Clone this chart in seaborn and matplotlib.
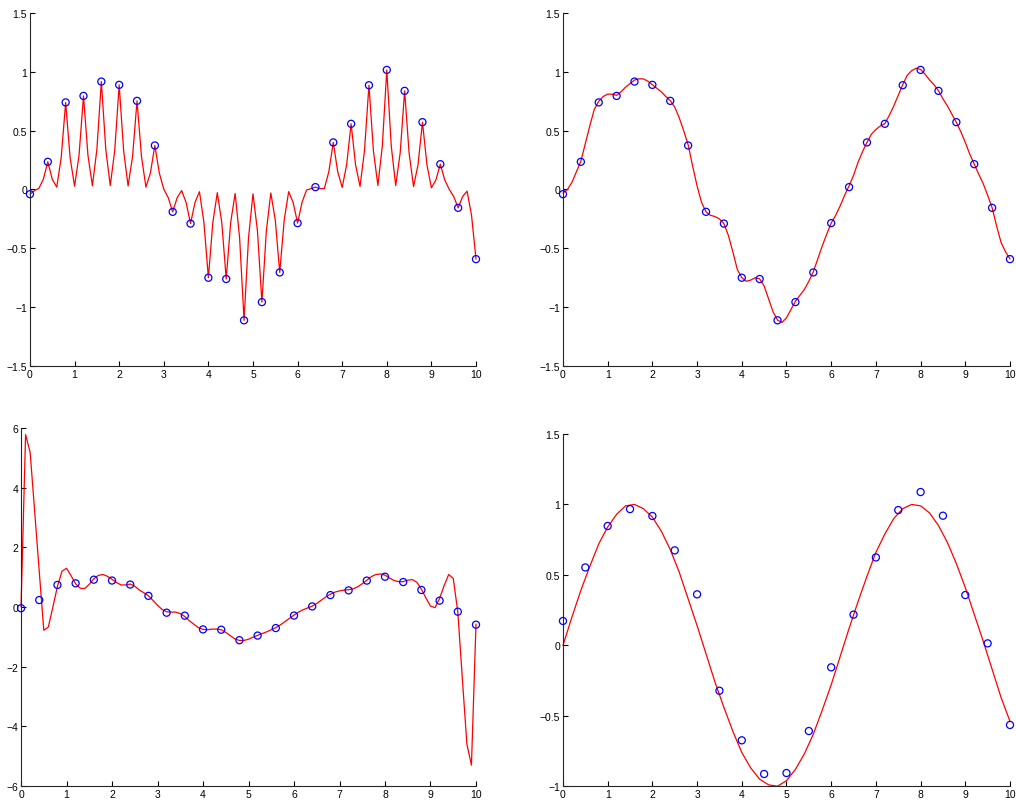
import numpy as np
import matplotlib
matplotlib.use("Agg")
import matplotlib.pyplot as plt
import seaborn as sns
from matplotlib.ticker import FuncFormatter

# noisy samples (top panels and bottom-left), x = 0, 0.4, ..., 10
pts_y = [-0.04, 0.235, 0.74, 0.795, 0.917, 0.889, 0.753, 0.374, -0.19, -0.29,
         -0.75, -0.761, -1.112, -0.957, -0.705, -0.286, 0.02, 0.40, 0.558, 0.886,
         1.016, 0.838, 0.572, 0.215, -0.156, -0.592]

# narrow-kernel fit (top-left), x step 0.1
narrow_y = [-0.04, -0.01, 0.01, 0.087, 0.235, 0.087, 0.02, 0.27, 0.74, 0.27,
            0.028, 0.29, 0.795, 0.29, 0.031, 0.34, 0.917, 0.34, 0.033, 0.33,
            0.889, 0.33, 0.03, 0.28, 0.753, 0.28, 0.02, 0.14, 0.374, 0.14,
            0.003, -0.07, -0.19, -0.07, -0.009, -0.11, -0.29, -0.11, -0.019, -0.28,
            -0.75, -0.28, -0.027, -0.28, -0.761, -0.28, -0.034, -0.41, -1.112, -0.41,
            -0.037, -0.35, -0.957, -0.35, -0.03, -0.26, -0.705, -0.26, -0.018, -0.11,
            -0.286, -0.11, -0.005, 0.007, 0.02, 0.007, 0.008, 0.15, 0.40, 0.15,
            0.017, 0.21, 0.558, 0.21, 0.026, 0.33, 0.886, 0.33, 0.034, 0.37,
            1.016, 0.37, 0.033, 0.31, 0.838, 0.31, 0.025, 0.21, 0.572, 0.21,
            0.014, 0.08, 0.215, 0.08, 0.001, -0.06, -0.156, -0.06, -0.014, -0.22,
            -0.592]

# smooth fit (top-right), x step 0.1
smooth_y = [-0.03, 0.00, 0.06, 0.15, 0.24, 0.39, 0.54, 0.68, 0.75, 0.79,
            0.81, 0.81, 0.80, 0.83, 0.87, 0.90, 0.93, 0.94, 0.94, 0.92,
            0.89, 0.86, 0.83, 0.79, 0.755, 0.70, 0.61, 0.50, 0.38, 0.20,
            0.03, -0.11, -0.19, -0.22, -0.23, -0.25, -0.29, -0.39, -0.53, -0.68,
            -0.75, -0.78, -0.77, -0.75, -0.76, -0.82, -0.93, -1.04, -1.11, -1.13,
            -1.09, -1.02, -0.95, -0.90, -0.85, -0.78, -0.70, -0.59, -0.48, -0.38,
            -0.285, -0.22, -0.14, -0.05, 0.03, 0.12, 0.23, 0.32, 0.40, 0.47,
            0.51, 0.54, 0.56, 0.63, 0.71, 0.80, 0.89, 0.97, 1.01, 1.03,
            1.02, 0.98, 0.93, 0.89, 0.84, 0.77, 0.71, 0.64, 0.57, 0.49,
            0.40, 0.30, 0.215, 0.13, 0.05, -0.05, -0.155, -0.31, -0.45, -0.53,
            -0.59]

# overfitted fit (bottom-left), x step 0.1
wild_y = [0.0, 5.78, 5.19, 3.2, 1.2, -0.78, -0.67, 0.0, 0.69, 1.2,
          1.3, 1.05, 0.78, 0.63, 0.62, 0.76, 0.95, 1.06, 1.09, 1.03,
          0.93, 0.82, 0.74, 0.74, 0.77, 0.70, 0.57, 0.48, 0.38, 0.22,
          0.06, -0.08, -0.16, -0.17, -0.17, -0.22, -0.32, -0.46, -0.58, -0.69,
          -0.75, -0.76, -0.74, -0.74, -0.76, -0.85, -0.96, -1.07, -1.12, -1.12,
          -1.08, -1.01, -0.95, -0.89, -0.83, -0.76, -0.69, -0.60, -0.49, -0.38,
          -0.27, -0.17, -0.09, -0.03, 0.03, 0.12, 0.23, 0.34, 0.43, 0.50,
          0.54, 0.57, 0.58, 0.61, 0.68, 0.78, 0.90, 1.02, 1.09, 1.11,
          1.07, 0.97, 0.89, 0.85, 0.85, 0.90, 0.92, 0.83, 0.60, 0.30,
          0.03, -0.02, 0.29, 0.72, 1.09, 0.96, -0.16, -2.4, -4.6, -5.3,
          -0.57]

# bottom-right samples, x = 0, 0.5, ..., 10
sin_pts = [0.173, 0.553, 0.847, 0.967, 0.918, 0.674, 0.362, -0.322, -0.674, -0.913,
           -0.906, -0.608, -0.156, 0.218, 0.624, 0.960, 1.088, 0.920, 0.357, 0.014,
           -0.565]

# bottom-right curve, x step 0.2
sin_curve = [0.00, 0.20, 0.39, 0.56, 0.72, 0.84, 0.93, 0.99, 1.00, 0.97,
             0.91, 0.81, 0.68, 0.52, 0.33, 0.14, -0.06, -0.26, -0.44, -0.61,
             -0.76, -0.87, -0.95, -0.99, -1.00, -0.96, -0.88, -0.77, -0.63, -0.46,
             -0.28, -0.08, 0.12, 0.31, 0.49, 0.66, 0.79, 0.90, 0.97, 1.00,
             0.99, 0.94, 0.85, 0.73, 0.58, 0.41, 0.22, 0.03, -0.17, -0.37,
             -0.54]

x_pts = np.linspace(0, 10, len(pts_y))
x_fine = np.linspace(0, 10, len(narrow_y))
x_sin_pts = np.linspace(0, 10, len(sin_pts))
x_sin = np.linspace(0, 10, len(sin_curve))

sns.set_style("ticks")
plt.rcParams["font.family"] = ["Liberation Sans", "DejaVu Sans"]
plt.rcParams["axes.unicode_minus"] = True

fig = plt.figure(figsize=(10.16, 8.03), dpi=100)

def fmt(v, pos):
    s = f"{v:g}"
    return s.replace("-", "\u2212")

def panel(rect, curve_x, curve_y, dots_x, dots_y, ylim, yticks):
    ax = fig.add_axes(rect)
    sns.lineplot(x=curve_x, y=curve_y, ax=ax, color="red", linewidth=0.9,
                 estimator=None, sort=False)
    sns.scatterplot(x=dots_x, y=dots_y, ax=ax, facecolor="none", edgecolor="blue",
                    s=26, linewidth=0.9, zorder=3)
    # markers at x=0 and x=10 sit on the axis edge, keep them whole
    for coll in ax.collections:
        coll.set_clip_on(False)
    for ln in ax.lines:
        ln.set_clip_on(False)
    ax.set_xlim(0, 10)
    ax.set_ylim(*ylim)
    ax.set_xticks(range(0, 11))
    ax.set_yticks(yticks)
    ax.xaxis.set_major_formatter(FuncFormatter(fmt))
    ax.yaxis.set_major_formatter(FuncFormatter(fmt))
    ax.tick_params(direction="in", length=3.5, width=0.8, labelsize=7.5, pad=2,
                   colors="black")
    for sp in ["left", "bottom"]:
        ax.spines[sp].set_linewidth(0.8)
    sns.despine(ax=ax)
    return ax

top_ticks = [-1.5, -1, -0.5, 0, 0.5, 1, 1.5]
panel([0.0295, 0.5430, 0.4390, 0.4396], x_fine, narrow_y, x_pts, pts_y, (-1.5, 1.5), top_ticks)
panel([0.5541, 0.5430, 0.4400, 0.4396], x_fine, smooth_y, x_pts, pts_y, (-1.5, 1.5), top_ticks)
panel([0.0207, 0.0199, 0.4478, 0.4458], x_fine, wild_y, x_pts, pts_y, (-6, 6), [-6, -4, -2, 0, 2, 4, 6])
panel([0.5541, 0.0196, 0.4400, 0.4387], x_sin, sin_curve, x_sin_pts, sin_pts, (-1, 1.5),
      [-1, -0.5, 0, 0.5, 1, 1.5])

fig.savefig("out.png", dpi=100)
